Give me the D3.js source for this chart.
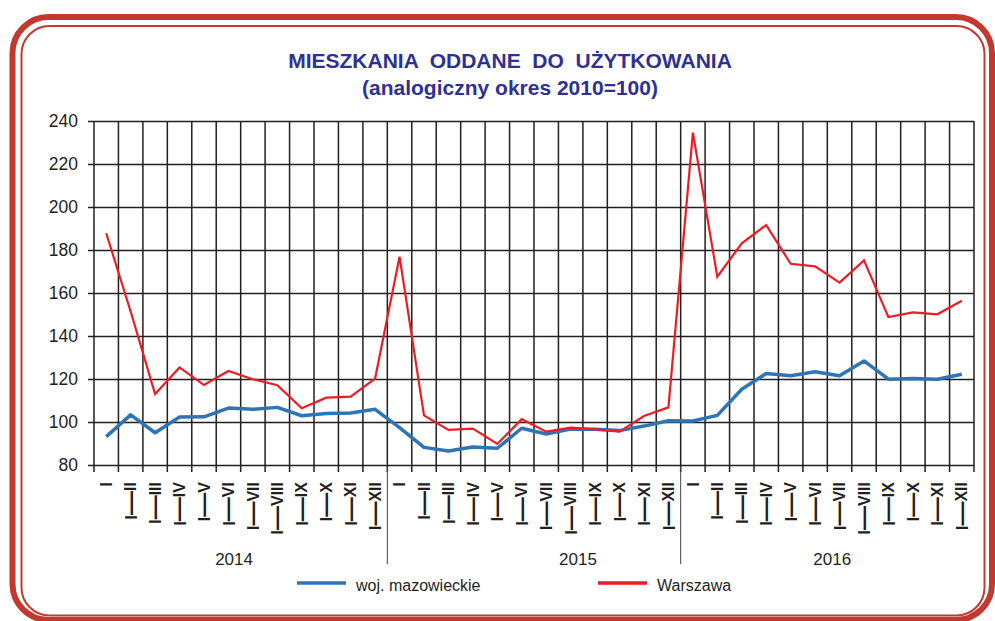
<!DOCTYPE html>
<html>
<head>
<meta charset="utf-8">
<script src="https://cdn.jsdelivr.net/npm/d3@7"></script>
<style>
  body { margin: 0; background: #fff; }
  svg { display: block; font-family: "Liberation Sans", Arial, sans-serif; }
</style>
</head>
<body>
<svg id="chart" width="995" height="621"></svg>
<script>
// okresy narastajaco od stycznia
var periods = ["I", "I–II", "I–III", "I–IV", "I–V", "I–VI", "I–VII", "I–VIII", "I–IX", "I–X", "I–XI", "I–XII"];
var years = ["2014", "2015", "2016"];
var yTicks = [80, 100, 120, 140, 160, 180, 200, 220, 240];

var mazowieckie = [
  93.2, 103.3, 95.0, 102.3, 102.4, 106.5, 105.9, 106.8, 102.9, 103.9, 104.2, 105.9,
  97.4, 88.2, 86.5, 88.4, 87.8, 97.1, 94.4, 96.7, 96.6, 96.0, 98.1, 100.6,
  100.5, 103.1, 115.2, 122.6, 121.5, 123.4, 121.5, 128.4, 119.9, 120.2, 119.9, 122.2
];
var warszawa = [
  187.8, 151.4, 113.0, 125.4, 117.2, 123.7, 119.9, 117.1, 106.4, 111.3, 111.8, 120.2,
  176.9, 103.1, 96.3, 96.9, 89.8, 101.3, 95.5, 97.4, 96.6, 95.5, 102.8, 106.8,
  234.6, 167.6, 183.1, 191.6, 173.6, 172.4, 164.8, 175.2, 148.8, 151.0, 150.1, 156.4
];

var seriesNames = ["woj. mazowieckie", "Warszawa"];
var seriesColors = ["#2e75b6", "#ed1c24"];

var categories = [];
years.forEach(function (yr) {
  periods.forEach(function (p) { categories.push(yr + " " + p); });
});

var ink = "#231f20";
var svg = d3.select("#chart");

// ramka
svg.append("rect")
  .attr("x", 12.5).attr("y", 17)
  .attr("width", 979.5).attr("height", 603)
  .attr("rx", 36)
  .attr("fill", "none")
  .attr("stroke", "#c1392f")
  .attr("stroke-width", 6);
svg.append("rect")
  .attr("x", 21.5).attr("y", 26)
  .attr("width", 963).attr("height", 589.5)
  .attr("rx", 28)
  .attr("fill", "none")
  .attr("stroke", "#c1392f")
  .attr("stroke-width", 2);

// tytul
svg.append("text")
  .attr("x", 510).attr("y", 68)
  .attr("text-anchor", "middle")
  .attr("font-size", 21).attr("font-weight", "bold")
  .attr("fill", "#2e3192")
  .style("white-space", "pre")
  .text("MIESZKANIA  ODDANE  DO  UŻYTKOWANIA");
svg.append("text")
  .attr("x", 510).attr("y", 95)
  .attr("text-anchor", "middle")
  .attr("font-size", 21).attr("font-weight", "bold")
  .attr("fill", "#2e3192")
  .text("(analogiczny okres 2010=100)");

var x = d3.scaleBand().domain(categories).range([94, 974]).padding(0);
var y = d3.scaleLinear().domain([80, 240]).range([465, 121]);
var bw = x.bandwidth();

// siatka pionowa
var bounds = categories.map(function (c) { return x(c); }).concat([x.range()[1]]);
svg.append("g")
  .selectAll("line")
  .data(bounds)
  .join("line")
  .attr("x1", function (d) { return d; })
  .attr("x2", function (d) { return d; })
  .attr("y1", y(240))
  .attr("y2", y(80) + 7)
  .attr("stroke", ink)
  .attr("stroke-width", 1.5);

// separatory lat
svg.append("g")
  .selectAll("line")
  .data(years.slice(1))
  .join("line")
  .attr("x1", function (d) { return x(d + " I"); })
  .attr("x2", function (d) { return x(d + " I"); })
  .attr("y1", y(80))
  .attr("y2", 564)
  .attr("stroke", "#444")
  .attr("stroke-width", 1);

// os Y + siatka pozioma
var yAxis = d3.axisLeft(y).tickValues(yTicks).tickSize(6).tickPadding(10);
var gy = svg.append("g").attr("transform", "translate(94,0)").call(yAxis);
gy.select(".domain").remove();
gy.selectAll(".tick line")
  .attr("x1", x.range()[1] - 94)
  .attr("x2", -6)
  .attr("stroke", ink)
  .attr("stroke-width", 1.5);
gy.selectAll(".tick text")
  .attr("font-size", 17.5)
  .attr("font-family", "Liberation Sans, Arial, sans-serif")
  .attr("fill", ink);

// etykiety okresow (obrocone)
var lab = svg.append("g")
  .selectAll("text")
  .data(categories)
  .join("text")
  .attr("transform", function (d) {
    return "translate(" + (x(d) + bw / 2) + ",482) rotate(-90)";
  })
  .attr("text-anchor", "end")
  .attr("font-weight", "bold")
  .attr("fill", ink);

lab.each(function (d) {
  var p = d.split(" ")[1];
  var t = d3.select(this);
  var parts = p.split("–");
  if (parts.length > 1) {
    t.append("tspan").attr("font-size", 17).attr("dy", 6.1).text(parts[0]);
    t.append("tspan").attr("font-size", 24).attr("dy", 0.8).text("—");
    t.append("tspan").attr("font-size", 16).attr("dy", -1.2).text(parts[1]);
  } else {
    t.append("tspan").attr("font-size", 16).attr("dy", 5.7).text(p);
  }
});

// lata
var yearOffset = [5.73, 7.8, 6.2];
svg.append("g")
  .selectAll("text")
  .data(years)
  .join("text")
  .attr("x", function (d, i) { return x(d + " I") + yearOffset[i] * bw; })
  .attr("y", 565)
  .attr("text-anchor", "middle")
  .attr("font-size", 17)
  .attr("fill", ink)
  .text(function (d) { return d; });

// linie
var line = d3.line()
  .x(function (d, i) { return x(categories[i]) + bw / 2; })
  .y(function (d) { return y(d); });

svg.append("path")
  .datum(mazowieckie)
  .attr("d", line)
  .attr("fill", "none")
  .attr("stroke", seriesColors[0])
  .attr("stroke-width", 3.5)
  .attr("stroke-linejoin", "round");

svg.append("path")
  .datum(warszawa)
  .attr("d", line)
  .attr("fill", "none")
  .attr("stroke", seriesColors[1])
  .attr("stroke-width", 2.2);

// legenda
var legX = [297, 598];
var leg = svg.append("g")
  .selectAll("g")
  .data(seriesNames)
  .join("g")
  .attr("transform", function (d, i) { return "translate(" + legX[i] + ",583)"; });
leg.append("line")
  .attr("x1", 0).attr("x2", 49)
  .attr("stroke", function (d, i) { return seriesColors[i]; })
  .attr("stroke-width", 3.5);
leg.append("text")
  .attr("x", 59).attr("y", 8)
  .attr("font-size", 16)
  .attr("fill", ink)
  .text(function (d) { return d; });
</script>
</body>
</html>
